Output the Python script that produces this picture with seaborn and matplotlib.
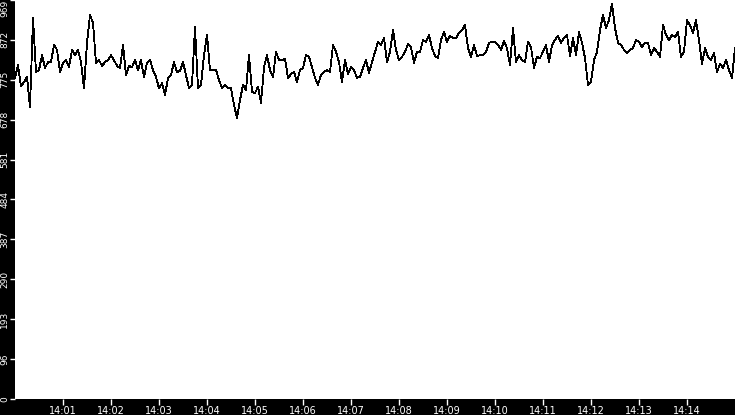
import numpy as np
import pandas as pd
import matplotlib
matplotlib.use("Agg")
import matplotlib.pyplot as plt
import matplotlib.dates as mdates
import seaborn as sns

# one reading every 3.75 s, 14:00:00 .. 14:15:00
start = "2024-01-01 14:00:00"
step_seconds = 3.75

values = [
    780, 811, 760, 770, 782, 709, 925, 794, 799, 835, 804, 818, 818, 860, 848, 794, 816, 823, 806, 848,
    835, 848, 818, 755, 865, 933, 913, 816, 823, 809, 818, 823, 835, 823, 809, 804, 860, 787, 809, 806,
    823,
    799, 823, 782, 816, 823, 799, 782, 755, 767, 738, 780, 787, 818, 794, 797, 818, 787, 755, 763, 903,
    755, 763, 835, 884, 799, 799, 799, 775, 755, 763, 755, 755, 714, 682, 726, 763, 750, 835, 746, 743,
    758, 719, 806, 835, 799, 782, 843, 823, 823, 826, 780, 789, 794, 770, 799, 804, 835, 831, 806, 780,
    763, 787, 794, 799, 794, 860, 843, 818, 770, 823, 789, 806, 799, 780, 782, 804, 823, 792, 818, 843,
    867, 860, 877, 818, 843, 896, 848, 823, 831, 843, 862, 855, 816, 843, 843, 872, 867, 884, 852, 833,
    828, 872, 891, 867, 882, 877, 877, 889, 896, 908, 852, 831, 860, 833, 835, 835, 843, 865, 867, 867,
    860, 848, 869, 852, 811, 901, 818, 835, 823, 818, 867, 855, 804, 831, 828, 843, 860, 818, 860, 872,
    882, 865, 877, 884, 833, 877, 835, 891, 865, 828, 763, 770, 823, 843, 896, 933, 901, 920, 960, 901,
    865, 860, 848, 840, 848, 852, 872, 867, 855, 865, 865, 835, 852, 843, 831, 908, 884, 872, 884, 879,
    891, 831, 843, 920, 908, 889, 920, 872, 814, 852, 831, 823, 840, 794, 814, 804, 823, 799, 780, 852,
]

times = pd.date_range(start, periods=len(values), freq=pd.Timedelta(seconds=step_seconds))
tick_times = pd.date_range("2024-01-01 14:01", "2024-01-01 14:14", freq="1min")
y_max = 969
y_ticks = np.linspace(0, y_max, 11)
y_labels = [str(int(v)) for v in y_ticks]

df = pd.DataFrame({"time": times, "value": values})

fig = plt.figure(figsize=(7.35, 4.15), dpi=100, facecolor="black")
ax = fig.add_axes([15 / 735, 16 / 415, 720 / 735, 399 / 415])
ax.set_facecolor("white")

sns.lineplot(data=df, x="time", y="value", ax=ax, color="black", linewidth=0.6,
             antialiased=False)

ax.set_xlim(times[0], times[-1])
ax.set_ylim(0, y_max)
ax.set_xticks(tick_times)
ax.xaxis.set_major_formatter(mdates.DateFormatter("%H:%M"))
ax.set_yticks(y_ticks)
ax.set_yticklabels(y_labels, rotation=90, va="center")
ax.get_yticklabels()[-1].set_va("top")

ax.tick_params(colors="white", length=4, width=1)
ax.tick_params(axis="x", labelsize=7, pad=1)
ax.tick_params(axis="y", labelsize=6.5, pad=0.5, length=3.5)
for s in ax.spines.values():
    s.set_visible(False)
ax.set_xlabel("")
ax.set_ylabel("")

fig.savefig("out.png", dpi=100, facecolor="black")
